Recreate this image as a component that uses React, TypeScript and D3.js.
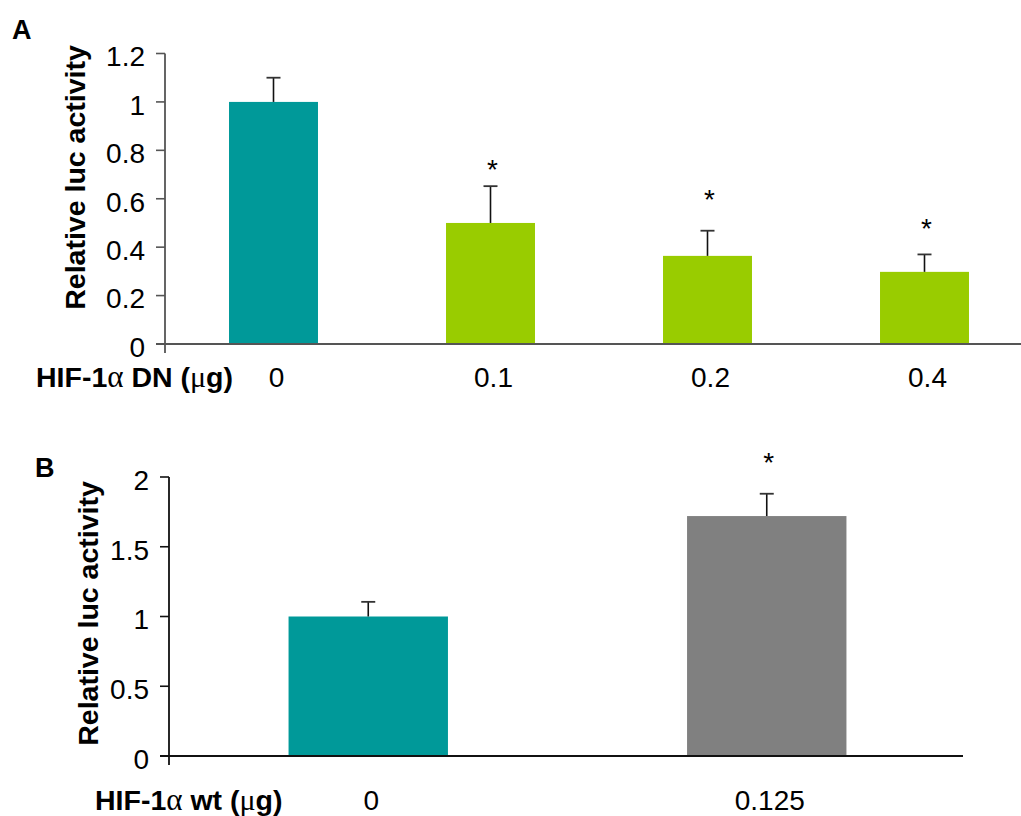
import React from "react";
import * as d3 from "d3";

const catsA = ["0", "0.1", "0.2", "0.4"];
const valsA = [1.0, 0.5, 0.364, 0.298];
const errA = [0.1, 0.152, 0.104, 0.072];
const starA = [null, 0.749, 0.625, 0.505];
const colorsA = ["#009999", "#99cc00", "#99cc00", "#99cc00"];
const ticksA = [0, 0.2, 0.4, 0.6, 0.8, 1, 1.2];

const catsB = ["0", "0.125"];
const valsB = [1.0, 1.72];
const errB = [0.105, 0.16];
const starB = [null, 2.15];
const colorsB = ["#009999", "#808080"];
const ticksB = [0, 0.5, 1, 1.5, 2];

const FONT = "'Liberation Sans', Arial, sans-serif";
const SYM = "'Liberation Serif', 'Times New Roman', serif";

type PanelProps = {
  cats: string[];
  vals: number[];
  errs: number[];
  stars: (number | null)[];
  colors: string[];
  ticks: number[];
  yMax: number;
  x0: number;
  x1: number;
  axisEnd: number;
  yTop: number;
  yBottom: number;
  pad: number;
  axisColor: string;
  letter: string;
  letterX: number;
  letterY: number;
  titleX: number;
  titleY: number;
  xLabelPre: string;
  xLabelMid: string;
  xLabelX: number;
  xLabelY: number;
};

function Panel(p: PanelProps) {
  const x = d3
    .scaleBand<string>()
    .domain(p.cats)
    .range([p.x0, p.x1])
    .paddingInner(p.pad)
    .paddingOuter(p.pad / 2);
  const y = d3.scaleLinear().domain([0, p.yMax]).range([p.yBottom, p.yTop]);
  const bw = x.bandwidth();
  return (
    <g fontFamily={FONT}>
      <text x={p.letterX} y={p.letterY} fontSize={27} fontWeight="bold">
        {p.letter}
      </text>
      <text
        transform={`translate(${p.titleX},${p.titleY}) rotate(-90)`}
        textAnchor="middle"
        fontSize={28.5}
        fontWeight="bold"
      >
        Relative luc activity
      </text>
      {p.cats.map((c, i) => {
        const cx = (x(c) as number) + bw / 2;
        const top = y(p.vals[i] + p.errs[i]);
        const s = p.stars[i];
        return (
          <g key={c}>
            <rect x={x(c)} y={y(p.vals[i])} width={bw} height={y(0) - y(p.vals[i])} fill={p.colors[i]} />
            <line x1={cx} x2={cx} y1={y(p.vals[i])} y2={top} stroke="#111" strokeWidth={1.6} />
            <line x1={cx - 7} x2={cx + 7} y1={top} y2={top} stroke="#333" strokeWidth={1.8} />
            {s !== null && (
              <text x={cx + 2} y={y(s)} dy="0.57em" textAnchor="middle" fontSize={28}>
                *
              </text>
            )}
            <text x={cx + 3} y={p.xLabelY} textAnchor="middle" fontSize={28}>
              {c}
            </text>
          </g>
        );
      })}
      <line x1={p.x0} x2={p.x0} y1={y(p.yMax)} y2={y(0) + 9} stroke={p.axisColor} strokeWidth={1.8} />
      <line x1={p.x0 - 9} x2={p.axisEnd} y1={y(0)} y2={y(0)} stroke={p.axisColor} strokeWidth={2} />
      {p.ticks.map((t) => (
        <g key={t}>
          <line x1={p.x0 - 9} x2={p.x0} y1={y(t)} y2={y(t)} stroke={p.axisColor} strokeWidth={1.6} />
          <text x={p.x0 - 20} y={y(t)} dy="0.46em" textAnchor="end" fontSize={28}>
            {String(t)}
          </text>
        </g>
      ))}
      <text x={p.xLabelX} y={p.xLabelY} fontSize={28.5} fontWeight="bold">
        HIF-1
        <tspan fontFamily={SYM} fontWeight="normal" fontSize={31}>α</tspan>
        {p.xLabelPre}
        <tspan fontFamily={SYM} fontWeight="normal" fontSize={30}>μ</tspan>
        {p.xLabelMid}
      </text>
    </g>
  );
}

export default function App() {
  return (
    <svg width={1021} height={816} style={{ position: "absolute", left: 0, top: 0, background: "#fff" }}>
      <rect width={1021} height={816} fill="#fff" />
      <Panel
        cats={catsA}
        vals={valsA}
        errs={errA}
        stars={starA}
        colors={colorsA}
        ticks={ticksA}
        yMax={1.2}
        x0={165}
        x1={1033}
        axisEnd={1021}
        yTop={53.5}
        yBottom={344}
        pad={0.59}
        axisColor="#555"
        letter="A"
        letterX={12}
        letterY={39}
        titleX={85}
        titleY={177.5}
        xLabelPre=" DN ("
        xLabelMid="g)"
        xLabelX={36}
        xLabelY={387}
      />
      <Panel
        cats={catsB}
        vals={valsB}
        errs={errB}
        stars={starB}
        colors={colorsB}
        ticks={ticksB}
        yMax={2}
        x0={169}
        x1={966}
        axisEnd={963}
        yTop={477}
        yBottom={756}
        pad={0.6}
        axisColor="#111"
        letter="B"
        letterX={35}
        letterY={477}
        titleX={98}
        titleY={613.5}
        xLabelPre=" wt ("
        xLabelMid="g)"
        xLabelX={95}
        xLabelY={810}
      />
    </svg>
  );
}
